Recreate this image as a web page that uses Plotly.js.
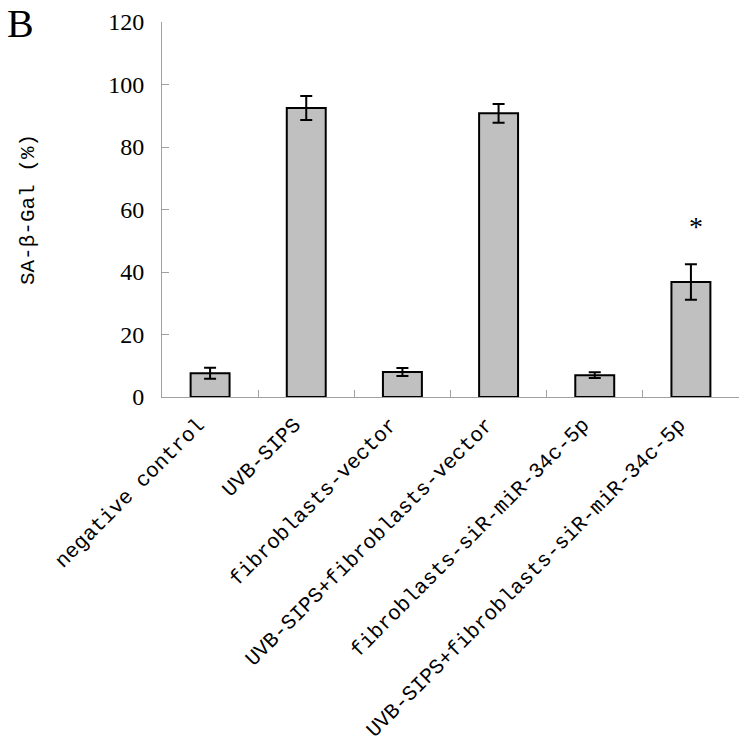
<!DOCTYPE html>
<html>
<head>
<meta charset="utf-8">
<script src="https://cdn.plot.ly/plotly-3.0.1.min.js"></script>
<style>html,body{margin:0;padding:0;background:#fff;}#chart{width:751px;height:748px;}</style>
</head>
<body>
<div id="chart"></div>
<script>
const categories = [
  "negative control",
  "UVB-SIPS",
  "fibroblasts-vector",
  "UVB-SIPS+fibroblasts-vector",
  "fibroblasts-siR-miR-34c-5p",
  "UVB-SIPS+fibroblasts-siR-miR-34c-5p"
];
const values = [7.6, 92.5, 8.0, 90.8, 7.0, 36.8];
const errors = [1.75, 3.85, 1.3, 3.0, 0.95, 5.7];
const yTicks = [0, 20, 40, 60, 80, 100, 120];
const markCategory = "UVB-SIPS+fibroblasts-siR-miR-34c-5p";
const markY = 54.5;
const markText = "*";

const trace = {
  type: "bar",
  x: categories,
  y: values,
  marker: {color: "#c0c0c0", line: {color: "#000", width: 2}},
  error_y: {type: "data", array: errors, visible: true, color: "#000", thickness: 2, width: 6},
  hoverinfo: "none"
};

const layout = {
  width: 751, height: 748,
  margin: {l: 162, r: 12, t: 22, b: 351, pad: 0},
  paper_bgcolor: "#fff", plot_bgcolor: "#fff",
  showlegend: false,
  bargap: 0.595,
  xaxis: {
    type: "category",
    showline: true, linecolor: "#a0a0a0", linewidth: 1,
    showgrid: false, zeroline: false,
    ticks: "inside", tickson: "boundaries", ticklen: 7, tickcolor: "#a0a0a0", tickwidth: 1,
    tickangle: -45,
    tickfont: {family: "Liberation Mono", size: 21, color: "#000"},
    ticklabelstandoff: 6,
    ticklabelshift: -12
  },
  yaxis: {
    range: [0, 120],
    tickvals: yTicks, ticktext: yTicks.map(String),
    showline: true, linecolor: "#a0a0a0", linewidth: 1,
    showgrid: false, zeroline: false,
    ticks: "inside", ticklen: 7, tickcolor: "#a0a0a0", tickwidth: 1,
    tickfont: {family: "Liberation Serif", size: 24, color: "#000"},
    ticklabelstandoff: 12,
    title: {text: "SA-β-Gal (%)", font: {family: "Liberation Mono", size: 21, color: "#000"}, standoff: 67}
  },
  annotations: [
    {xref: "x", yref: "y", x: markCategory, y: markY, text: markText, showarrow: false,
     xshift: 5, font: {family: "Liberation Serif", size: 28, color: "#000"}},
    {xref: "paper", yref: "paper", x: -0.272, y: 1.062, xanchor: "left", yanchor: "top",
     text: "B", showarrow: false, font: {family: "Liberation Serif", size: 40, color: "#000"}}
  ]
};

Plotly.newPlot("chart", [trace], layout, {displayModeBar: false, staticPlot: true});
</script>
</body>
</html>
